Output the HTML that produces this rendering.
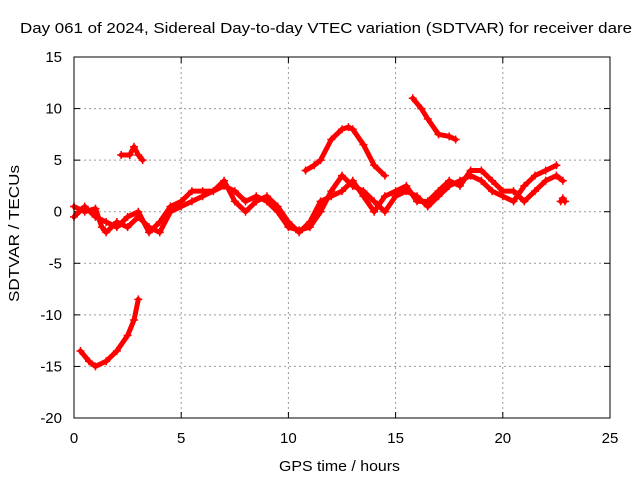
<!DOCTYPE html>
<html><head><meta charset="utf-8"><style>
body{margin:0;background:#fff}
svg{display:block;font-family:"Liberation Sans",sans-serif}
</style></head><body>
<svg id="chart" width="640" height="480">
<text x="20" y="33" font-size="15" textLength="612" lengthAdjust="spacingAndGlyphs">Day 061 of 2024, Sidereal Day-to-day VTEC variation (SDTVAR) for receiver dare</text>
<text x="279" y="471" font-size="15" textLength="121" lengthAdjust="spacingAndGlyphs">GPS time / hours</text>
<text transform="translate(19,302) rotate(-90)" font-size="15" textLength="137" lengthAdjust="spacingAndGlyphs">SDTVAR / TECUs</text>
<g id="grid"></g><g id="marks"></g>
<rect x="74" y="57" width="536" height="361" fill="none" stroke="#000"/>
</svg>
<script>
const xTicks=[0,5,10,15,20,25];
const yTicks=[15,10,5,0,-5,-10,-15,-20];
const trace1T=[0,0.5,1,1.3,1.5,2,2.5,3,3.5,4,4.5,5,5.5,6,7,7.5,8,8.5,9,9.5,10,10.5,11,11.5,12,12.5,13,13.5,14,14.5,15,15.5,16,16.5,17,17.5,18,18.5,19,19.5,20,20.5,21,21.5,22,22.5];
const trace1V=[0.5,0,0.3,-1.5,-2,-1,-1.5,-0.5,-1.5,-2,0,0.5,1,1.5,2.5,2,1,1.5,1,0,-1.5,-1.8,-1.5,0,2,3.5,2.5,2,1,0,1.5,2,1.5,0.5,1.5,2.5,3,3.5,3,2,1.5,1,2.5,3.5,4,4.5];
const trace2T=[0,0.5,1,1.5,2,2.5,3,3.5,4,4.5,5,5.5,6,6.5,7,7.5,8,8.5,9,9.5,10,10.5,11,11.5,12,12.5,13,13.5,14,14.5,15,15.5,16,16.5,17,17.5,18,18.5,19,19.5,20,20.5,21,21.5,22,22.5,22.8];
const trace2V=[-0.5,0.5,-0.5,-1,-1.5,-0.5,0,-2,-1,0.5,1,2,2,2,3,1,0,1,1.5,0.5,-1,-2,-1,1,1.5,2,3,1.5,0,1.5,2,2.5,1,1,2,3,2.5,4,4,3,2,2,1,2,3,3.5,3];
const arcT=[10.8,11.2,11.5,12,12.5,12.8,13,13.5,14,14.5];
const arcV=[4,4.5,5,7,8,8.2,8,6.5,4.5,3.5];
const highT=[15.8,16.2,16.5,17,17.5,17.8];
const highV=[11,10,9,7.5,7.3,7];
const smallT=[2.2,2.6,2.8,3,3.2];
const smallV=[5.5,5.5,6.3,5.5,5];
const lowT=[0.3,0.7,1,1.5,2,2.5,2.8,3];
const lowV=[-13.5,-14.5,-15,-14.5,-13.5,-12,-10.5,-8.5];
const lastT=[22.7,22.8,22.9];
const lastV=[1,1.3,1];
const X=t=>74+t*536/25, Y=v=>57+(15-v)*361/35;
const NS="http://www.w3.org/2000/svg";
const svg=document.getElementById('chart'),grid=document.getElementById('grid'),marks=document.getElementById('marks');
function mk(tag,attrs,parent){const e=document.createElementNS(NS,tag);for(const k in attrs)e.setAttribute(k,attrs[k]);parent.appendChild(e);return e;}
xTicks.forEach(t=>{
 if(t>0&&t<25){const g=mk('line',{x1:X(t),x2:X(t),y1:57,y2:418,stroke:'#999','stroke-dasharray':'2,3'},grid);
 
 }
 const l=mk('text',{x:X(t),y:443,'font-size':15,'text-anchor':'middle'},svg);l.textContent=t;
 
 
 mk('line',{x1:X(t),x2:X(t),y1:418,y2:412,stroke:'#000'},grid);mk('line',{x1:X(t),x2:X(t),y1:57,y2:63,stroke:'#000'},grid);
});
yTicks.forEach(v=>{
 if(v<15&&v>-20){const g=mk('line',{x1:74,x2:610,y1:Y(v),y2:Y(v),stroke:'#999','stroke-dasharray':'2,3'},grid);
 
 }
 const l=mk('text',{x:62,y:Y(v)+5,'font-size':15,'text-anchor':'end'},svg);l.textContent=v;
 
 
 mk('line',{x1:74,x2:80,y1:Y(v),y2:Y(v),stroke:'#000'},grid);mk('line',{x1:604,x2:610,y1:Y(v),y2:Y(v),stroke:'#000'},grid);
});
function series(ts,vs,name){
 const pts=ts.map((t,i)=>X(t)+','+Y(vs[i])).join(' ');
 const p=mk('polyline',{points:pts,fill:'none',stroke:'#f00','stroke-width':5,'stroke-linejoin':'round','stroke-linecap':'round'},marks);
 
 
 ts.forEach((t,i)=>{const m=mk('path',{d:`M${X(t)-4},${Y(vs[i])}h8M${X(t)},${Y(vs[i])-4}v8`,stroke:'#f00','stroke-width':1.5},marks);
 
 });
}
series(trace1T,trace1V,'trace-1');
series(trace2T,trace2V,'trace-2');
series(arcT,arcV,'arc-trace');
series(highT,highV,'high-trace');
series(smallT,smallV,'small-trace');
series(lowT,lowV,'low-trace');
series(lastT,lastV,'end-trace');
</script>
</body></html>
